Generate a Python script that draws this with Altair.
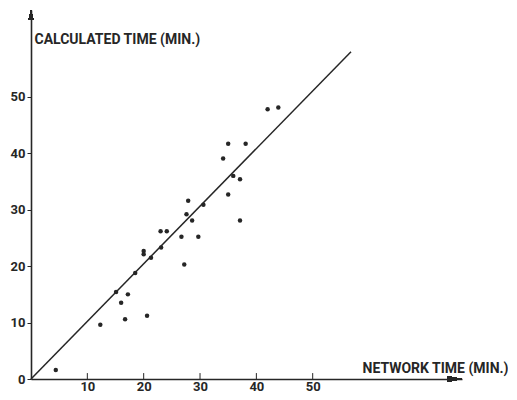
import altair as alt
import pandas as pd

# Data
network_time = [4.4, 12.3, 16.7, 20.6, 15.1, 17.2, 16.0, 18.5, 20.0, 20.0,
                21.3, 23.1, 23.0, 24.1, 26.7, 27.2, 27.6, 27.9, 28.6, 29.7,
                30.6, 34.1, 35.0, 35.0, 35.9, 37.1, 38.1, 37.1, 42.0, 43.9]
calculated_time = [1.6, 9.6, 10.6, 11.2, 15.4, 15.0, 13.5, 18.8, 22.7, 22.1,
                   21.5, 23.3, 26.2, 26.2, 25.2, 20.3, 29.2, 31.6, 28.1, 25.2,
                   30.9, 39.1, 41.7, 32.7, 36.0, 35.4, 41.7, 28.1, 47.8, 48.1]
line_x = [0, 56.8]
line_y = [0, 58.0]
x_ticks = [10, 20, 30, 40, 50]
y_ticks = [0, 10, 20, 30, 40, 50]

X_MAX = 76.5
Y_MAX = 65.4
W, H = 431, 369
FONT = "Roboto"
INK = "#262626"

pts = pd.DataFrame({"x": network_time, "y": calculated_time})
line = pd.DataFrame({"x": line_x, "y": line_y})
ticks = pd.DataFrame({"x": x_ticks, "y0": [0] * len(x_ticks), "y1": [1.05] * len(x_ticks)})

xscale = alt.Scale(domain=[0, X_MAX], nice=False, zero=True)
yscale = alt.Scale(domain=[0, Y_MAX], nice=False, zero=True)

xaxis = alt.Axis(values=x_ticks, grid=False, ticks=False, labelPadding=1,
                 labelBaseline="top",
                 domainColor=INK, domainWidth=1.6,
                 labelFont=FONT, labelFontSize=13, labelFontWeight="bold", labelColor=INK,
                 title="NETWORK TIME (MIN.)", titleFont=FONT, titleFontSize=14,
                 titleFontWeight="bold", titleColor=INK, titleAngle=0,
                 titleAlign="left", titleBaseline="alphabetic", titleX=331, titleY=-7)
yaxis = alt.Axis(values=y_ticks, grid=False, tickSize=4, tickColor=INK, tickWidth=1,
                 labelPadding=2,
                 domainColor=INK, domainWidth=1.6,
                 labelFont=FONT, labelFontSize=13, labelFontWeight="bold", labelColor=INK,
                 title="CALCULATED TIME (MIN.)", titleFont=FONT, titleFontSize=14,
                 titleFontWeight="bold", titleColor=INK, titleAngle=0,
                 titleAlign="left", titleBaseline="alphabetic", titleX=3, titleY=33)

base = alt.Chart(pts).mark_point(filled=True, size=20, color=INK, opacity=1).encode(
    x=alt.X("x:Q", scale=xscale, axis=xaxis),
    y=alt.Y("y:Q", scale=yscale, axis=yaxis),
)

diag = alt.Chart(line).mark_line(color=INK, strokeWidth=1.5).encode(
    x=alt.X("x:Q", scale=xscale), y=alt.Y("y:Q", scale=yscale))

xt = alt.Chart(ticks).mark_rule(color=INK, strokeWidth=1).encode(
    x=alt.X("x:Q", scale=xscale), y=alt.Y("y0:Q", scale=yscale), y2="y1:Q")

arrow_r = alt.Chart(pts).mark_point(
    shape="M0,0L-2,-0.4L-2,0.4Z", filled=True, size=225, color=INK, opacity=1
).encode(x=alt.value(W), y=alt.value(H))
arrow_u = alt.Chart(pts).mark_point(
    shape="M0,0L-0.5,2L0.5,2Z", filled=True, size=100, color=INK, opacity=1
).encode(x=alt.value(0), y=alt.value(0))

chart = alt.layer(base, diag, xt, arrow_r, arrow_u).properties(
    width=W, height=H,
    background="white",
    autosize=alt.AutoSizeParams(type="none"),
    padding={"left": 23, "top": 2, "right": 46, "bottom": 13},
).configure_view(stroke=None)

chart.save("out.html", embed_options={"renderer": "svg", "actions": False})
